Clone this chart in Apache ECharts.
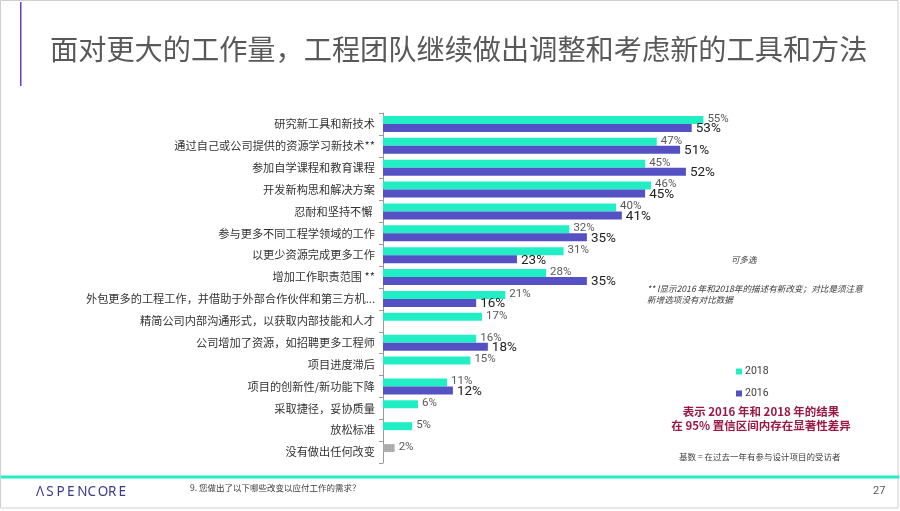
<!DOCTYPE html>
<html><head><meta charset="utf-8">
<script src="https://cdn.jsdelivr.net/npm/echarts@6/dist/echarts.min.js"></script>
<style>html,body{margin:0;padding:0;background:#fff}#c{width:900px;height:511px}</style>
</head><body><div id="c"></div>
<script>
const categories = [
  '研究新工具和新技术',
  '通过自己或公司提供的资源学习新技术**',
  '参加自学课程和教育课程',
  '开发新构思和解决方案',
  '忍耐和坚持不懈 ',
  '参与更多不同工程学领域的工作',
  '以更少资源完成更多工作',
  '增加工作职责范围 **',
  '外包更多的工程工作，并借助于外部合作伙伴和第三方机...',
  '精简公司内部沟通形式，以获取内部技能和人才',
  '公司增加了资源，如招聘更多工程师',
  '项目进度滞后',
  '项目的创新性/新功能下降',
  '采取捷径，妥协质量',
  '放松标准',
  '没有做出任何改变'
];
const values2018 = [55, 47, 45, 46, 40, 32, 31, 28, 21, 17, 16, 15, 11, 6, 5, 2];
const values2016 = [53, 51, 52, 45, 41, 35, 23, 35, 16, null, 18, null, 12, null, null, null];
const seriesNames = ['2018', '2016'];
const noChangeIndex = 15;

const C18 = '#22EEC6', C16 = '#5550C4';
const FONT = '"Noto Sans CJK SC", "Noto Sans", sans-serif';

const data18 = values2018.map((v, i) => i === noChangeIndex
  ? { value: v, itemStyle: { color: '#a8a8a8', decal: { symbol: 'rect', symbolSize: 0.6, color: 'rgba(255,255,255,0.45)', dashArrayX: [2, 1], dashArrayY: [2, 1], rotation: 0 } } }
  : v);

const chart = echarts.init(document.getElementById('c'), null, { renderer: 'canvas' });

const logo = 'ΛSPENCORE'.split('').map((ch, i) => ({
  type: 'text', left: 36 + i * 10.3, top: 485,
  style: { text: ch, fill: '#3a3a8c', font: '13.5px "Noto Sans", sans-serif' }
}));

chart.setOption({
  animation: false,
  textStyle: { fontFamily: FONT },
  grid: { left: 383, right: 51, top: 113, bottom: 48, containLabel: false },
  xAxis: { type: 'value', min: 0, max: 80, show: false },
  yAxis: {
    type: 'category', data: categories, inverse: true,
    axisLine: { lineStyle: { color: '#9a9a9a', width: 1 } },
    axisTick: { show: true, length: 4, lineStyle: { color: '#9a9a9a' } },
    axisLabel: { color: '#333', fontSize: 11.2, margin: 8, fontFamily: FONT }
  },
  legend: {
    data: seriesNames, orient: 'vertical', left: 731, top: 361,
    itemWidth: 6, itemHeight: 6, itemGap: 11, icon: 'rect',
    textStyle: { fontSize: 10.5, color: '#404040', fontFamily: 'Roboto, sans-serif', padding: [0, 0, 0, -2] }
  },
  series: [
    {
      name: seriesNames[0], type: 'bar', data: data18, barWidth: 8, barGap: '0%',
      itemStyle: { color: C18 },
      label: { show: true, position: 'right', distance: 4, formatter: '{c}%', color: '#595959', fontSize: 11.5, fontFamily: 'Roboto, sans-serif', offset: [0, -1] }
    },
    {
      name: seriesNames[1], type: 'bar', data: values2016, barWidth: 8, barGap: '0%',
      itemStyle: { color: C16 },
      label: { show: true, position: 'right', distance: 4, formatter: '{c}%', color: '#222', fontSize: 13.5, fontFamily: 'Roboto, sans-serif', offset: [0, 1] }
    }
  ],
  graphic: [
    { type: 'rect', shape: { x: 0.5, y: 0.5, width: 897.5, height: 507.5 }, style: { fill: 'none', stroke: '#cfcfcf', lineWidth: 1 }, z: -10 },
    { type: 'rect', shape: { x: 20, y: 2, width: 1.5, height: 84 }, style: { fill: '#6a3fd0' } },
    { type: 'text', left: 50, top: 35, style: { text: '面对更大的工作量，工程团队继续做出调整和考虑新的工具和方法', font: '28.2px "Noto Sans CJK SC", sans-serif', fill: '#595959' } },
    { type: 'rect', shape: { x: 1, y: 475.5, width: 898, height: 3 }, style: { fill: '#22EEC6' } },
    ...logo,
    { type: 'text', left: 190, top: 484, style: { text: '9. 您做出了以下哪些改变以应付工作的需求？', font: '8.5px "Noto Sans CJK SC", sans-serif', fill: '#404040' } },
    { type: 'text', left: 873, top: 486, style: { text: '27', font: '11px Roboto, sans-serif', fill: '#595959' } },
    { type: 'text', left: 731, top: 256, style: { text: '可多选', font: 'italic 8.5px "Noto Sans CJK SC", sans-serif', fill: '#404040' } },
    { type: 'text', left: 647, top: 283, style: { text: '** l显示2016 年和2018年的描述有新改变；对比是须注意\n新增选项没有对比数据', font: 'italic 8.6px "Noto Sans CJK SC", sans-serif', fill: '#404040', lineHeight: 11 } },
    { type: 'text', x: 761, y: 405, style: { text: '表示 2016 年和 2018 年的结果\n在 95% 置信区间内存在显著性差异', font: 'bold 11.5px "Noto Sans CJK SC", sans-serif', fill: '#9B1842', align: 'center', lineHeight: 13.5 } },
    { type: 'text', left: 679, top: 453, style: { text: '基数 = 在过去一年有参与设计项目的受访者', font: '8.5px "Noto Sans CJK SC", sans-serif', fill: '#404040' } }
  ]
});
</script></body></html>
